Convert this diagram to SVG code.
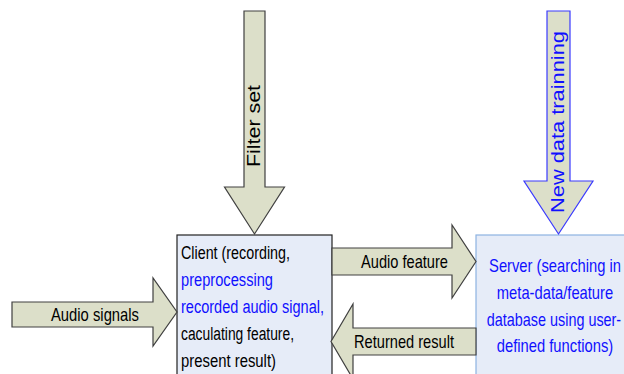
<svg xmlns="http://www.w3.org/2000/svg" width="624" height="374" viewBox="0 0 624 374">
<style>
.box{fill:#e6ecf8;}
.arr{fill:#dcdfc9;stroke:#404040;stroke-width:1.2;stroke-linejoin:miter;}
.arrb{fill:#dcdfc9;stroke:#3a3aff;stroke-width:1.2;}
text{font-family:"Liberation Sans",Arial,sans-serif;font-size:18px;}
.blk{fill:#000;}
.blu{fill:#1010ff;}
.lbl{font-size:19px;}
.srv{text-anchor:middle;}
</style>
<rect width="624" height="374" fill="#fff"/>
<g id="client">
<rect class="box" x="177" y="235" width="155" height="141" stroke="#222" stroke-width="1.2"/>
<text class="blk" x="181" y="259" textLength="109" lengthAdjust="spacingAndGlyphs">Client (recording,</text>
<text class="blu" x="181" y="286" textLength="92" lengthAdjust="spacingAndGlyphs">preprocessing</text>
<text class="blu" x="181" y="313" textLength="143" lengthAdjust="spacingAndGlyphs">recorded audio signal,</text>
<text class="blk" x="181" y="340" textLength="113" lengthAdjust="spacingAndGlyphs">caculating feature,</text>
<text class="blk" x="181" y="367" textLength="95" lengthAdjust="spacingAndGlyphs">present result)</text>
</g>
<g id="server">
<rect class="box" x="476" y="235" width="150" height="141" stroke="#8db3e2" stroke-width="1.2"/>
<text class="blu srv" transform="translate(555,272) scale(0.82,1)">Server (searching in</text>
<text class="blu srv" transform="translate(555,299) scale(0.82,1)">meta-data/feature</text>
<text class="blu srv" transform="translate(554,326) scale(0.80,1)">database using user-</text>
<text class="blu srv" transform="translate(555,352) scale(0.82,1)">defined functions)</text>
</g>
<g id="connectors">
<g id="filter-set">
<polygon class="arr" points="244,11 265,11 265,187 284.5,187 254.5,234 224.5,187 244,187"/>
<text class="blk" transform="translate(260,126) rotate(-90)" text-anchor="middle" font-size="19" textLength="82" lengthAdjust="spacingAndGlyphs">Filter set</text>
</g>
<g id="new-data">
<polygon class="arrb" points="547,11 570,11 570,181 593,181 558.5,234 524,181 547,181"/>
<text class="blu" transform="translate(564,122) rotate(-90)" text-anchor="middle" font-size="17" textLength="182" lengthAdjust="spacingAndGlyphs">New data trainning</text>
</g>
<g id="audio-signals">
<polygon class="arr" points="12,302 153,302 153,278 177,312 153,346 153,327 12,327"/>
<text class="blk lbl" x="51" y="321" textLength="88" lengthAdjust="spacingAndGlyphs">Audio signals</text>
</g>
<g id="audio-feature">
<polygon class="arr" points="332,248 452,248 452,225 476,261.5 452,298 452,275 332,275"/>
<text class="blk lbl" x="361" y="268" textLength="87" lengthAdjust="spacingAndGlyphs">Audio feature</text>
</g>
<g id="returned-result">
<polygon class="arr" points="476,328 353,328 353,304 331,341.5 353,379 353,355 476,355"/>
<text class="blk lbl" x="354" y="348" textLength="100" lengthAdjust="spacingAndGlyphs">Returned result</text>
</g>
</g>
</svg>
